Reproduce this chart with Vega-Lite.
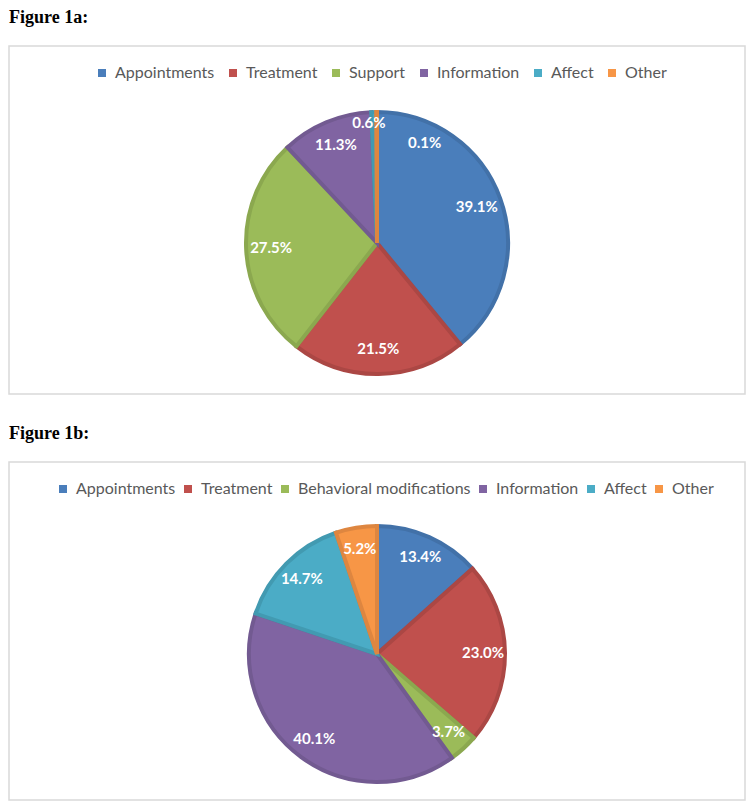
{
  "$schema": "https://vega.github.io/schema/vega-lite/v6.json",
  "padding": {"left": 8, "top": 8, "right": 10, "bottom": 11},
  "background": "white",
  "spacing": 29,
  "config": {
    "view": {"stroke": "#d9d9d9", "strokeWidth": 1.5},
    "style": {"view": {"stroke": "#d9d9d9", "strokeWidth": 1.5}, "cell": {"stroke": "#d9d9d9", "strokeWidth": 1.5}},
    "title": {"anchor": "start", "font": "Liberation Serif", "fontSize": 18, "fontWeight": "bold", "color": "#000000", "offset": 19},
    "legend": {"labelFont": "Lato", "labelFontSize": 16, "labelColor": "#595959", "labelLimit": 400, "symbolType": "square", "symbolSize": 64, "symbolStrokeWidth": 0, "labelOffset": 5, "direction": "horizontal", "orient": "none", "title": null}
  },
  "resolve": {"scale": {"color": "independent", "stroke": "independent", "theta": "independent"}, "legend": {"color": "independent"}},
  "vconcat": [
    {
      "title": "Figure 1a:",
      "width": 736,
      "height": 348,
      "view": {"stroke": "#d9d9d9", "strokeWidth": 1.5},
      "data": {"values": [
        {"category": "Appointments", "value": 39.1, "label": "39.1%", "order": 1},
        {"category": "Treatment", "value": 21.5, "label": "21.5%", "order": 2},
        {"category": "Support", "value": 27.5, "label": "27.5%", "order": 3},
        {"category": "Information", "value": 11.3, "label": "11.3%", "order": 4},
        {"category": "Affect", "value": 0.6, "label": "0.6%", "order": 5},
        {"category": "Other", "value": 0.1, "label": "0.1%", "order": 6}
      ]},
      "encoding": {
        "theta": {"field": "value", "type": "quantitative", "stack": true},
        "order": {"field": "order", "type": "quantitative"}
      },
      "layer": [
        {
          "mark": {"type": "arc", "outerRadius": 131, "yOffset": 23, "strokeWidth": 4, "strokeJoin": "miter"},
          "encoding": {
            "color": {"field": "category", "type": "nominal",
              "scale": {"domain": ["Appointments", "Treatment", "Support", "Information", "Affect", "Other"], "range": ["#4a7ebb", "#c0504d", "#9bbb59", "#8064a2", "#4bacc6", "#f79646"]},
              "legend": {"legendX": 85, "legendY": 19, "columnPadding": 10}},
            "stroke": {"field": "category", "type": "nominal",
              "scale": {"domain": ["Appointments", "Treatment", "Support", "Information", "Affect", "Other"], "range": ["#4271a8", "#ab4744", "#8ba84f", "#725a91", "#429ab1", "#de8640"]},
              "legend": null}
          }
        },
        {
          "mark": {"type": "text", "radius": 106, "yOffset": 23, "font": "Lato", "fontSize": 15, "fontWeight": "bold", "color": "white"},
          "encoding": {"text": {"condition": {"test": "datum.value > 1", "field": "label"}, "value": ""}}
        },
        {
          "mark": {"type": "text", "radius": 120, "yOffset": 23, "dx": -5, "font": "Lato", "fontSize": 15, "fontWeight": "bold", "color": "white"},
          "encoding": {"text": {"condition": {"test": "datum.category === 'Affect'", "field": "label"}, "value": ""}}
        },
        {
          "mark": {"type": "text", "radius": 120, "yOffset": 23, "dx": 48, "dy": 20, "font": "Lato", "fontSize": 15, "fontWeight": "bold", "color": "white"},
          "encoding": {"text": {"condition": {"test": "datum.category === 'Other'", "field": "label"}, "value": ""}}
        }
      ]
    },
    {
      "title": "Figure 1b:",
      "width": 736,
      "height": 338,
      "view": {"stroke": "#d9d9d9", "strokeWidth": 1.5},
      "data": {"values": [
        {"category": "Appointments", "value": 13.4, "label": "13.4%", "order": 1},
        {"category": "Treatment", "value": 23.0, "label": "23.0%", "order": 2},
        {"category": "Behavioral modifications", "value": 3.7, "label": "3.7%", "order": 3},
        {"category": "Information", "value": 40.1, "label": "40.1%", "order": 4},
        {"category": "Affect", "value": 14.7, "label": "14.7%", "order": 5},
        {"category": "Other", "value": 5.2, "label": "5.2%", "order": 6}
      ]},
      "encoding": {
        "theta": {"field": "value", "type": "quantitative", "stack": true},
        "order": {"field": "order", "type": "quantitative"}
      },
      "layer": [
        {
          "mark": {"type": "arc", "outerRadius": 128, "yOffset": 23, "strokeWidth": 4, "strokeJoin": "miter"},
          "encoding": {
            "color": {"field": "category", "type": "nominal",
              "scale": {"domain": ["Appointments", "Treatment", "Behavioral modifications", "Information", "Affect", "Other"], "range": ["#4a7ebb", "#c0504d", "#9bbb59", "#8064a2", "#4bacc6", "#f79646"]},
              "legend": {"legendX": 46, "legendY": 19, "columnPadding": 4}},
            "stroke": {"field": "category", "type": "nominal",
              "scale": {"domain": ["Appointments", "Treatment", "Behavioral modifications", "Information", "Affect", "Other"], "range": ["#4271a8", "#ab4744", "#8ba84f", "#725a91", "#429ab1", "#de8640"]},
              "legend": null}
          }
        },
        {
          "mark": {"type": "text", "radius": 106, "yOffset": 23, "font": "Lato", "fontSize": 15, "fontWeight": "bold", "color": "white"},
          "encoding": {"text": {"field": "label"}}
        }
      ]
    }
  ]
}
